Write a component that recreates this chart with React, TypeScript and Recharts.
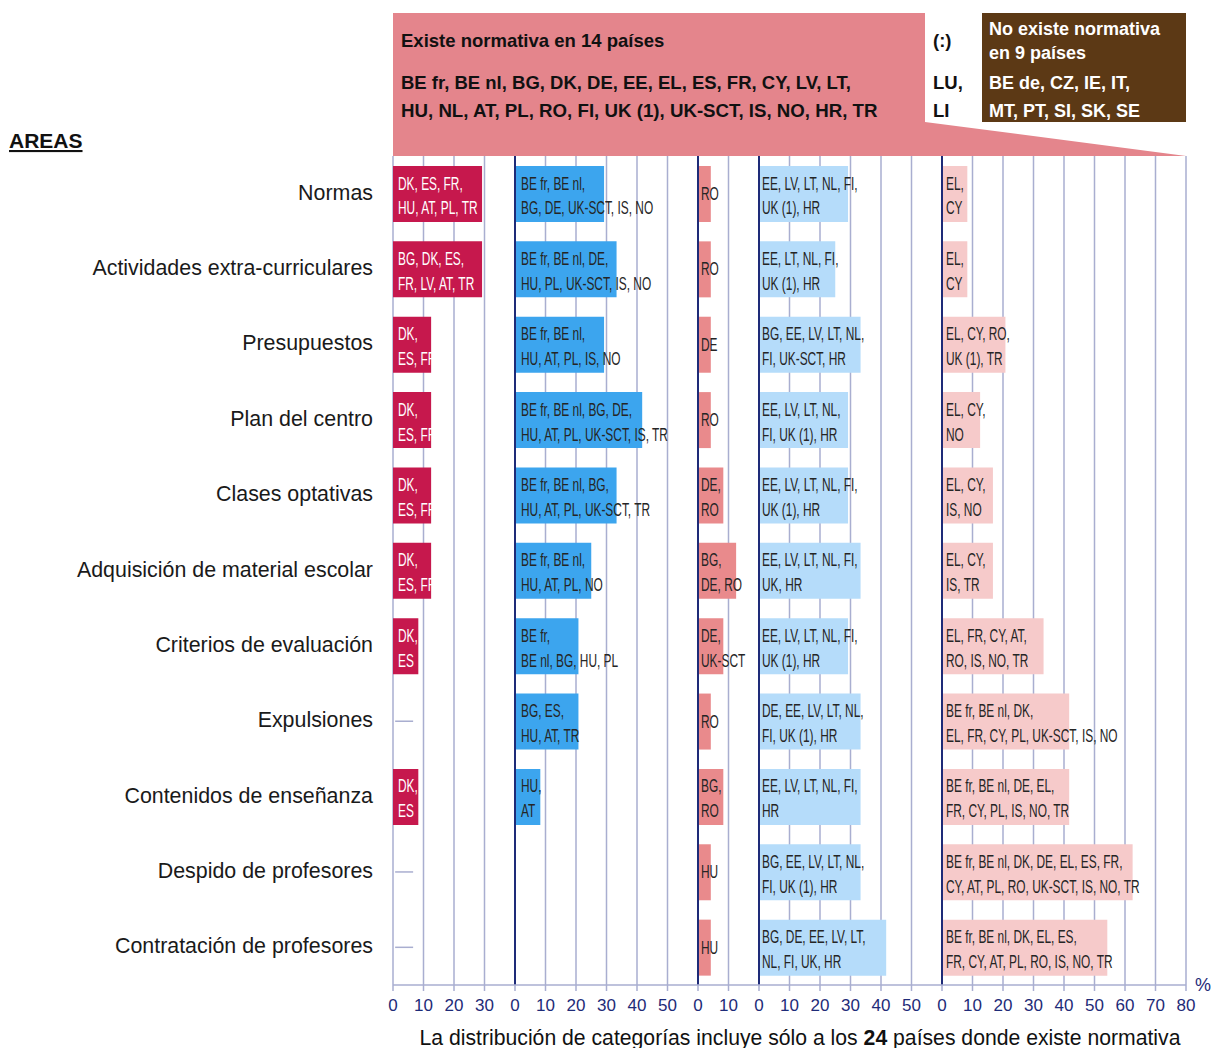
import React from 'react';
import { BarChart, Bar, XAxis, YAxis, CartesianGrid, ReferenceLine, LabelList } from 'recharts';

// ---------- data ----------
const areas = [
  'Normas',
  'Actividades extra-curriculares',
  'Presupuestos',
  'Plan del centro',
  'Clases optativas',
  'Adquisición de material escolar',
  'Criterios de evaluación',
  'Expulsiones',
  'Contenidos de enseñanza',
  'Despido de profesores',
  'Contratación de profesores',
];

// % of the 24 countries, per panel (category of decision)
const panel1 = [29.2, 29.2, 12.5, 12.5, 12.5, 12.5, 8.3, 0, 8.3, 0, 0];
const panel2 = [29.2, 33.3, 29.2, 41.7, 33.3, 25, 20.8, 20.8, 8.3, 0, 0];
const panel3 = [4.2, 4.2, 4.2, 4.2, 8.3, 12.5, 8.3, 4.2, 8.3, 4.2, 4.2];
const panel4 = [29.2, 25, 33.3, 29.2, 29.2, 33.3, 29.2, 33.3, 33.3, 33.3, 41.7];
const panel5 = [8.3, 8.3, 20.8, 12.5, 16.7, 16.7, 33.3, 41.7, 41.7, 62.5, 54.2];

const labels1 = [
  ['DK, ES, FR,', 'HU, AT, PL, TR'],
  ['BG, DK, ES,', 'FR, LV, AT, TR'],
  ['DK,', 'ES, FR'],
  ['DK,', 'ES, FR'],
  ['DK,', 'ES, FR'],
  ['DK,', 'ES, FR'],
  ['DK,', 'ES'],
  [],
  ['DK,', 'ES'],
  [],
  [],
];
const labels2 = [
  ['BE fr, BE nl,', 'BG, DE, UK-SCT, IS, NO'],
  ['BE fr, BE nl, DE,', 'HU, PL, UK-SCT, IS, NO'],
  ['BE fr, BE nl,', 'HU, AT, PL, IS, NO'],
  ['BE fr, BE nl, BG, DE,', 'HU, AT, PL, UK-SCT, IS, TR'],
  ['BE fr, BE nl, BG,', 'HU, AT, PL, UK-SCT, TR'],
  ['BE fr, BE nl,', 'HU, AT, PL, NO'],
  ['BE fr,', 'BE nl, BG, HU, PL'],
  ['BG, ES,', 'HU, AT, TR'],
  ['HU,', 'AT'],
  [],
  [],
];
const labels3 = [
  ['RO'], ['RO'], ['DE'], ['RO'], ['DE,', 'RO'], ['BG,', 'DE, RO'],
  ['DE,', 'UK-SCT'], ['RO'], ['BG,', 'RO'], ['HU'], ['HU'],
];
const labels4 = [
  ['EE, LV, LT, NL, FI,', 'UK (1), HR'],
  ['EE, LT, NL, FI,', 'UK (1), HR'],
  ['BG, EE, LV, LT, NL,', 'FI, UK-SCT, HR'],
  ['EE, LV, LT, NL,', 'FI, UK (1), HR'],
  ['EE, LV, LT, NL, FI,', 'UK (1), HR'],
  ['EE, LV, LT, NL, FI,', 'UK, HR'],
  ['EE, LV, LT, NL, FI,', 'UK (1), HR'],
  ['DE, EE, LV, LT, NL,', 'FI, UK (1), HR'],
  ['EE, LV, LT, NL, FI,', 'HR'],
  ['BG, EE, LV, LT, NL,', 'FI, UK (1), HR'],
  ['BG, DE, EE, LV, LT,', 'NL, FI, UK, HR'],
];
const labels5 = [
  ['EL,', 'CY'],
  ['EL,', 'CY'],
  ['EL, CY, RO,', 'UK (1), TR'],
  ['EL, CY,', 'NO'],
  ['EL, CY,', 'IS, NO'],
  ['EL, CY,', 'IS, TR'],
  ['EL, FR, CY, AT,', 'RO, IS, NO, TR'],
  ['BE fr, BE nl, DK,', 'EL, FR, CY, PL, UK-SCT, IS, NO'],
  ['BE fr, BE nl, DE, EL,', 'FR, CY, PL, IS, NO, TR'],
  ['BE fr, BE nl, DK, DE, EL, ES, FR,', 'CY, AT, PL, RO, UK-SCT, IS, NO, TR'],
  ['BE fr, BE nl, DK, EL, ES,', 'FR, CY, AT, PL, RO, IS, NO, TR'],
];

// start of each panel on the shared axis
const panelBase = [0, 40, 100, 120, 180];
const xTicks = [0, 10, 20, 30, 40, 50, 60, 70, 80, 90, 100, 110, 120, 130, 140, 150, 160, 170, 180, 190, 200, 210, 220, 230, 240, 250, 260];
const xTickLabels = ['0', '10', '20', '30', '0', '10', '20', '30', '40', '50', '0', '10', '0', '10', '20', '30', '40', '50', '0', '10', '20', '30', '40', '50', '60', '70', '80'];

const headerExists = 'Existe normativa en 14 países';
const headerExistsList = ['BE fr, BE nl, BG, DK, DE, EE, EL, ES, FR, CY, LV, LT,', 'HU, NL, AT, PL, RO, FI, UK (1), UK-SCT, IS, NO, HR, TR'];
const headerMissing = ['(:)', 'LU,', 'LI'];
const headerNo = ['No existe normativa', 'en 9 países', 'BE de, CZ, IE, IT,', 'MT, PT, SI, SK, SE'];

// ---------- styles ----------
const FONT = '"Liberation Sans", Arial, sans-serif';
const GRID = '#A9AED0';
const NAVY = '#1E2B78';
const series = [
  { values: panel1, labels: labels1, color: '#C6184D', text: '#FFFFFF', pad: 5 },
  { values: panel2, labels: labels2, color: '#3CA5EE', text: '#252525', pad: 6 },
  { values: panel3, labels: labels3, color: '#E98A8C', text: '#252525', pad: 3 },
  { values: panel4, labels: labels4, color: '#B5DCFA', text: '#252525', pad: 3 },
  { values: panel5, labels: labels5, color: '#F6CACA', text: '#252525', pad: 4 },
];

const rows = areas.map((area, i) => {
  const r: any = { area };
  series.forEach((s, k) => {
    r['b' + k] = [panelBase[k], panelBase[k] + s.values[i]];
    r['l' + k] = s.labels[i].join('|');
  });
  return r;
});

// rows with no country in panel 1 get a short dash
const dashAreas = areas.filter((_, i) => panel1[i] === 0);

const SX = 0.68;

const makeLabel = (textColor: string, pad: number) => (props: any) => {
  const vb = props.viewBox && props.viewBox.x !== undefined ? props.viewBox : props;
  const x = Number(vb.x);
  const y = Number(vb.y);
  const h = Number(vb.height);
  const cy = y + h / 2;
  const lines = String(props.value ?? '').split('|').filter((t) => t.length > 0);
  if (!lines.length) return null;
  const ys = lines.length === 1 ? [6] : [-4.5, 20.5];
  return (
    <g transform={`translate(${x + pad},${cy}) scale(${SX},1)`}>
      {lines.map((t, j) => (
        <text key={j} x={0} y={ys[j]} fill={textColor} fontSize={17.5} fontFamily={FONT} style={{ whiteSpace: 'pre' }}>
          {t}
        </text>
      ))}
    </g>
  );
};

const AreaTick = (props: any) => {
  const { x, y, payload } = props;
  return (
    <text x={x} y={y} dy={6} textAnchor="end" fill="#1A1A1A" fontSize={21.4} fontFamily={FONT}>
      {payload.value}
    </text>
  );
};

export default function App() {
  return (
    <div style={{ position: 'absolute', left: 0, top: 0, width: 1214, height: 1048, background: '#fff', fontFamily: FONT }}>
      <BarChart
        layout="vertical"
        width={1214}
        height={1048}
        data={rows}
        margin={{ top: 156, right: 28, bottom: 33, left: 0 }}
        barGap={-56}
      >
        <CartesianGrid horizontal={false} vertical stroke={GRID} strokeWidth={1.5} />
        <XAxis
          type="number"
          domain={[0, 260]}
          ticks={xTicks}
          interval={0}
          height={30}
          axisLine={{ stroke: GRID, strokeWidth: 1.5 }}
          tickLine={{ stroke: GRID, strokeWidth: 1.5 }}
          tickSize={6}
          tickMargin={8}
          tickFormatter={(v: number, i: number) => xTickLabels[i]}
          tick={{ fill: NAVY, fontSize: 17, fontFamily: FONT }}
        />
        <YAxis
          type="category"
          dataKey="area"
          width={393}
          axisLine={false}
          tickLine={false}
          tickSize={0}
          tickMargin={20}
          interval={0}
          tick={<AreaTick />}
        />
        {series.map((s, k) => (
          <Bar key={k} dataKey={'b' + k} fill={s.color} barSize={56} isAnimationActive={false}>
            <LabelList dataKey={'l' + k} content={makeLabel(s.text, s.pad)} />
          </Bar>
        ))}
        {panelBase.slice(1).map((b) => (
          <ReferenceLine key={b} x={b} stroke={NAVY} strokeWidth={2} />
        ))}
        {dashAreas.map((a) => (
          <ReferenceLine
            key={'dash-' + a}
            segment={[{ x: 0.7, y: a }, { x: 6.6, y: a }]}
            stroke={GRID}
            strokeWidth={1.5}
          />
        ))}
      </BarChart>
      <svg
        width={1214}
        height={1048}
        style={{ position: 'absolute', left: 0, top: 0, pointerEvents: 'none' }}
        fontFamily={FONT}
      >
        <polygon points="393,13 925,13 925,122 1186,156 393,156" fill="#E4858C" />
        <rect x={982} y={13} width={204} height={109} fill="#5C3915" />
        <text x={401} y={47} fontSize={18.5} fontWeight="bold" fill="#111">{headerExists}</text>
        <text x={401} y={89} fontSize={18.5} fontWeight="bold" fill="#111">{headerExistsList[0]}</text>
        <text x={401} y={117} fontSize={18.7} fontWeight="bold" fill="#111">{headerExistsList[1]}</text>
        <text x={933} y={47} fontSize={18.5} fontWeight="bold" fill="#111">{headerMissing[0]}</text>
        <text x={933} y={89} fontSize={18.5} fontWeight="bold" fill="#111">{headerMissing[1]}</text>
        <text x={933} y={117} fontSize={18.5} fontWeight="bold" fill="#111">{headerMissing[2]}</text>
        <text x={989} y={35} fontSize={18} fontWeight="bold" fill="#fff">{headerNo[0]}</text>
        <text x={989} y={59} fontSize={18} fontWeight="bold" fill="#fff">{headerNo[1]}</text>
        <text x={989} y={89} fontSize={18} fontWeight="bold" fill="#fff">{headerNo[2]}</text>
        <text x={989} y={117} fontSize={18} fontWeight="bold" fill="#fff">{headerNo[3]}</text>
        <text x={9} y={148} fontSize={21} fontWeight="bold" fill="#111" textDecoration="underline">AREAS</text>
        <text x={1195} y={991} fontSize={18} fill={NAVY}>%</text>
        <text x={800} y={1045} fontSize={21.2} fill="#111" textAnchor="middle">
          La distribución de categorías incluye sólo a los <tspan fontWeight="bold">24</tspan> países donde existe normativa
        </text>
      </svg>
    </div>
  );
}
